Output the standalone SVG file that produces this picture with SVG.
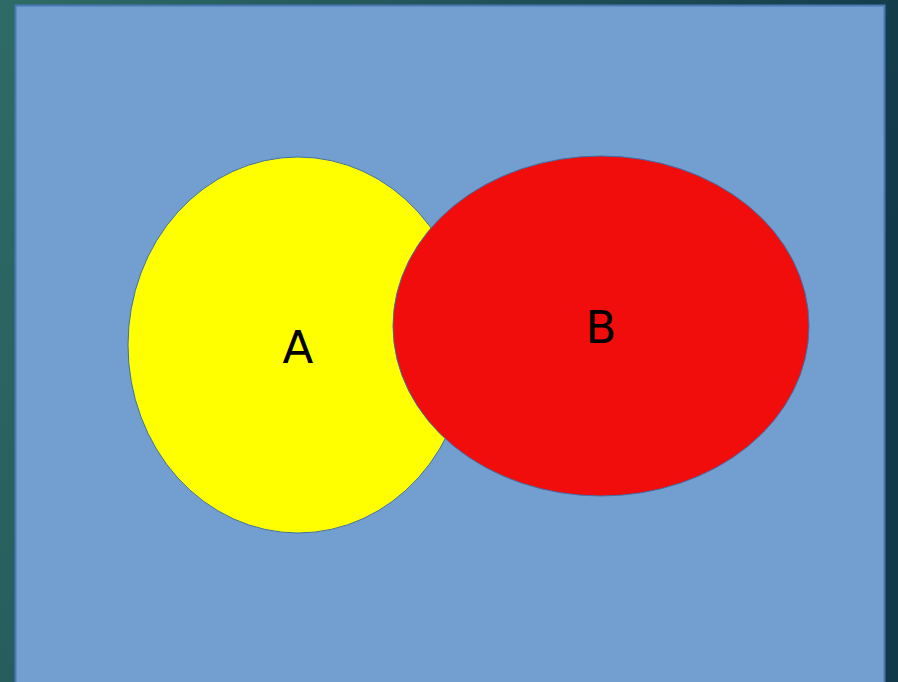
<svg xmlns="http://www.w3.org/2000/svg" width="898" height="682" viewBox="0 0 898 682">
<defs>
<linearGradient id="bg" x1="0" y1="0" x2="1" y2="0.3">
<stop offset="0" stop-color="#2f6b66"/>
<stop offset="1" stop-color="#12394a"/>
</linearGradient>
<style>
.lbl{font-family:"DejaVu Sans","Liberation Sans",sans-serif;font-size:45px;fill:#000;text-anchor:middle}
.sh{stroke:#3f6fa8;stroke-width:1}
</style>
</defs>
<rect x="0" y="0" width="898" height="682" fill="url(#bg)"/>
<rect x="15.5" y="5.5" width="869" height="690" fill="#729fcf" stroke="#4a78b4" stroke-width="2"/>
<g id="A">
<ellipse class="sh" cx="298" cy="345" rx="170" ry="188" fill="#ffff00"/>
<text class="lbl" x="298" y="363">A</text>
</g>
<g id="B">
<ellipse class="sh" cx="601" cy="326" rx="208" ry="170" fill="#f10d0c"/>
<text class="lbl" x="601" y="343">B</text>
</g>
<g id="connectors"/>
</svg>
